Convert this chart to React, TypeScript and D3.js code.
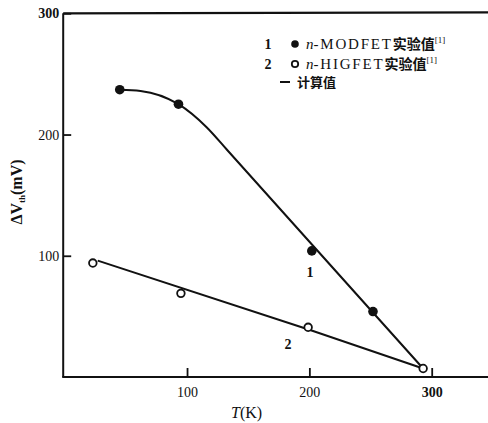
import { useEffect, useRef } from "react";
import * as d3 from "d3";

const W = 488;
const H = 423;

// experimental points, curve 1 (n-MODFET)
const MOD_T: number[] = [45, 93, 202, 252];
const MOD_V: number[] = [237, 225, 104, 54];
// experimental points, curve 2 (n-HIGFET)
const HIG_T: number[] = [23, 95, 199, 293];
const HIG_V: number[] = [94, 69, 41, 7];
// calculated curves
const CALC1_T: number[] = [45, 62, 93, 116, 133, 293];
const CALC1_V: number[] = [237, 236, 225, 206, 187, 7];
const CALC2_T: number[] = [27, 200, 293];
const CALC2_V: number[] = [96, 39, 7];

const X_TICKS = [100, 200, 300];
const Y_TICKS = [100, 200, 300];

const serif = "'Liberation Serif', 'DejaVu Serif', serif";
const cjk = "'Noto Sans CJK SC', sans-serif";

const App = () => {
  const svgRef = useRef<SVGSVGElement | null>(null);

  useEffect(() => {
    if (!svgRef.current) return;
    const svg = d3.select(svgRef.current);
    svg.selectAll("*").remove();

    const x = d3.scaleLinear().domain([0, 300]).range([64.7, 431.7]);
    const y = d3.scaleLinear().domain([0, 300]).range([377, 13.3]);

    // frame: top border, left axis line, bottom axis line
    svg
      .append("line")
      .attr("x1", x(0) - 1.5)
      .attr("x2", W)
      .attr("y1", y(300))
      .attr("y2", y(300) - 1)
      .attr("stroke", "#111")
      .attr("stroke-width", 2.2);
    svg
      .append("line")
      .attr("x1", x(0) - 1.5)
      .attr("x2", x(0) - 1.5)
      .attr("y1", y(300))
      .attr("y2", y(0))
      .attr("stroke", "#111")
      .attr("stroke-width", 2);
    svg
      .append("line")
      .attr("x1", x(0) - 2.5)
      .attr("x2", W)
      .attr("y1", y(0))
      .attr("y2", y(0))
      .attr("stroke", "#111")
      .attr("stroke-width", 2);

    // axes (ticks point inward)
    const xAxis = svg
      .append("g")
      .attr("transform", `translate(0, ${y(0)})`)
      .call(
        d3
          .axisBottom(x)
          .tickValues(X_TICKS)
          .tickSizeInner(-9)
          .tickSizeOuter(0)
          .tickPadding(10)
      );
    xAxis.select(".domain").remove();
    xAxis.selectAll("line").attr("stroke", "#111").attr("stroke-width", 1.8);
    xAxis
      .selectAll("text")
      .attr("font-family", serif)
      .attr("font-size", 14)
      .attr("font-weight", (d: any) => (d === 300 ? "bold" : "normal"))
      .attr("fill", "#111");

    const yAxis = svg
      .append("g")
      .attr("transform", `translate(${x(0) - 1.5}, 0)`)
      .call(
        d3
          .axisLeft(y)
          .tickValues(Y_TICKS)
          .tickSizeInner(-8)
          .tickSizeOuter(0)
          .tickPadding(4)
      );
    yAxis.select(".domain").remove();
    yAxis.selectAll("line").attr("stroke", "#111").attr("stroke-width", 1.8);
    yAxis
      .selectAll("text")
      .attr("font-family", serif)
      .attr("font-size", 14)
      .attr("font-weight", (d: any) => (d === 300 ? "bold" : "normal"))
      .attr("fill", "#111");

    // axis titles
    const tx = svg
      .append("text")
      .attr("x", 231)
      .attr("y", 418)
      .attr("font-family", serif)
      .attr("font-size", 16)
      .attr("fill", "#111");
    tx.append("tspan").attr("font-style", "italic").text("T");
    tx.append("tspan").text("(K)");

    const ty = svg
      .append("text")
      .attr("transform", "translate(22, 192) rotate(-90)")
      .attr("text-anchor", "middle")
      .attr("font-family", serif)
      .attr("font-size", 16)
      .attr("font-weight", "bold")
      .attr("fill", "#111");
    ty.append("tspan").text("ΔV");
    ty.append("tspan").attr("font-size", 9).attr("dy", 3).text("th");
    ty.append("tspan").attr("dy", -3).text("(mV)");

    // calculated lines
    const curve1 = d3
      .line<[number, number]>()
      .x((d) => x(d[0]))
      .y((d) => y(d[1]))
      .curve(d3.curveMonotoneX);
    const straight = d3
      .line<[number, number]>()
      .x((d) => x(d[0]))
      .y((d) => y(d[1]));
    const calc1 = CALC1_T.map((t, i) => [t, CALC1_V[i]] as [number, number]);
    const calc2 = CALC2_T.map((t, i) => [t, CALC2_V[i]] as [number, number]);
    svg
      .append("path")
      .datum(calc1)
      .attr("fill", "none")
      .attr("stroke", "#111")
      .attr("stroke-width", 2)
      .attr("stroke-linejoin", "round")
      .attr("d", curve1);
    svg
      .append("path")
      .datum(calc2)
      .attr("fill", "none")
      .attr("stroke", "#111")
      .attr("stroke-width", 2)
      .attr("stroke-linejoin", "round")
      .attr("d", straight);

    // experimental points
    svg
      .append("g")
      .selectAll("circle")
      .data(MOD_T.map((t, i) => [t, MOD_V[i]]))
      .join("circle")
      .attr("cx", (d) => x(d[0]))
      .attr("cy", (d) => y(d[1]))
      .attr("r", 4.8)
      .attr("fill", "#111");
    svg
      .append("g")
      .selectAll("circle")
      .data(HIG_T.map((t, i) => [t, HIG_V[i]]))
      .join("circle")
      .attr("cx", (d) => x(d[0]))
      .attr("cy", (d) => y(d[1]))
      .attr("r", 3.8)
      .attr("fill", "#fff")
      .attr("stroke", "#111")
      .attr("stroke-width", 1.8);

    // curve labels
    svg
      .append("text")
      .attr("x", 310)
      .attr("y", 277)
      .attr("text-anchor", "middle")
      .attr("font-family", serif)
      .attr("font-size", 14)
      .attr("font-weight", "bold")
      .attr("fill", "#111")
      .text("1");
    svg
      .append("text")
      .attr("x", 288)
      .attr("y", 349)
      .attr("text-anchor", "middle")
      .attr("font-family", serif)
      .attr("font-size", 14)
      .attr("font-weight", "bold")
      .attr("fill", "#111")
      .text("2");

    // legend
    const rows = [
      { num: "1", name: "-MODFET", y: 44, filled: true },
      { num: "2", name: "-HIGFET", y: 64, filled: false },
    ];
    rows.forEach((r) => {
      svg
        .append("text")
        .attr("x", 268)
        .attr("y", r.y + 5)
        .attr("text-anchor", "middle")
        .attr("font-family", serif)
        .attr("font-size", 14)
        .attr("font-weight", "bold")
        .attr("fill", "#111")
        .text(r.num);
      svg
        .append("circle")
        .attr("cx", 295)
        .attr("cy", r.y)
        .attr("r", r.filled ? 3.8 : 3.2)
        .attr("fill", r.filled ? "#111" : "#fff")
        .attr("stroke", "#111")
        .attr("stroke-width", r.filled ? 0 : 1.8);
      const t = svg
        .append("text")
        .attr("x", 306)
        .attr("y", r.y + 5)
        .attr("font-family", serif)
        .attr("font-size", 15)
        .attr("fill", "#111");
      t.append("tspan").attr("font-style", "italic").text("n");
      t.append("tspan").attr("letter-spacing", 1.8).text(r.name);
      t.append("tspan")
        .attr("font-family", cjk)
        .attr("font-size", 14)
        .attr("font-weight", "bold")
        .text("实验值");
      t.append("tspan").attr("font-size", 9).attr("dy", -6).text("[1]");
    });
    svg
      .append("line")
      .attr("x1", 280)
      .attr("x2", 290)
      .attr("y1", 82)
      .attr("y2", 82)
      .attr("stroke", "#111")
      .attr("stroke-width", 2);
    svg
      .append("text")
      .attr("x", 297)
      .attr("y", 87)
      .attr("font-family", cjk)
      .attr("font-size", 13)
      .attr("font-weight", "bold")
      .attr("fill", "#111")
      .text("计算值");
  }, []);

  return (
    <div style={{ position: "absolute", left: 0, top: 0 }}>
      <svg ref={svgRef} width={W} height={H} style={{ display: "block", background: "#fff" }} />
    </div>
  );
};

export default App;
